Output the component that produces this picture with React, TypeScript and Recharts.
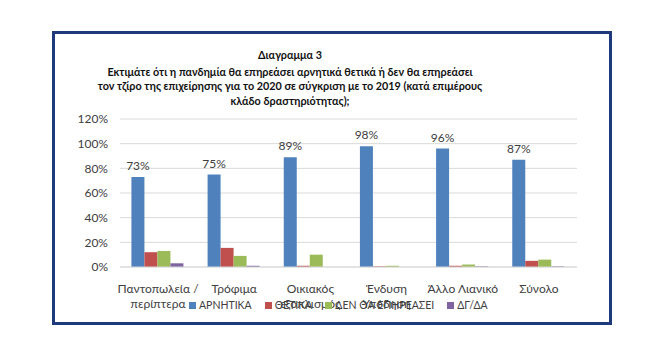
import { BarChart, Bar, XAxis, YAxis, CartesianGrid, LabelList } from 'recharts'

const categories = ['Παντοπωλεία /\nπερίπτερα', 'Τρόφιμα', 'Οικιακός\nεξοπλισμός', 'Ένδυση\nΥπόδηση', 'Άλλο Λιανικό', 'Σύνολο']
const negative = [73, 75, 89, 98, 96, 87]
const positive = [12, 15.5, 1, 0.5, 1, 5]
const noEffect = [13, 9, 10, 1, 2, 6]
const dontKnow = [3, 1, 0, 0, 0.5, 0.5]
const yTicks = [0, 20, 40, 60, 80, 100, 120]

const series = [
  { key: 'neg', name: 'ΑΡΝΗΤΙΚΑ', color: '#4f81bd' },
  { key: 'pos', name: 'ΘΕΤΙΚΑ', color: '#c0504d' },
  { key: 'none', name: 'ΔΕΝ ΘΑ ΕΠΗΡΕΑΣΕΙ', color: '#9bbb59' },
  { key: 'dk', name: 'ΔΓ/ΔΑ', color: '#8064a2' },
]

const data = categories.map((c, i) => ({
  cat: c,
  neg: negative[i],
  pos: positive[i],
  none: noEffect[i],
  dk: dontKnow[i],
}))

const font = 'Lato, "Open Sans", sans-serif'

function CatTick(props: any) {
  const { x, y, payload } = props
  const lines = String(payload.value).split('\n')
  return (
    <text x={x} y={y + 18} textAnchor="middle" fill="#404040" fontSize={12} fontFamily={font}>
      {lines.map((l, i) => (
        <tspan key={i} x={x} dy={i === 0 ? 0 : 15}>{l}</tspan>
      ))}
    </text>
  )
}

export default function App() {
  return (
    <div style={{ position: 'absolute', left: 0, top: 0, width: 658, height: 338, background: '#fff' }}>
      <div style={{ position: 'absolute', left: 52, top: 31, width: 554, height: 288, border: '3px solid #1f3a7a' }} />
      <div style={{ position: 'absolute', left: 90, top: 48, width: 400, textAlign: 'center', fontFamily: font, fontWeight: 700, fontSize: 10.8, color: '#111', lineHeight: '14.5px', whiteSpace: 'nowrap' }}>
        <div style={{ marginBottom: 2 }}>Διαγραμμα 3</div>
        <div>Εκτιμάτε ότι η πανδημία θα επηρεάσει αρνητικά θετικά ή δεν θα επηρεάσει</div>
        <div>τον τζίρο της επιχείρησης για το 2020 σε σύγκριση με το 2019 (κατά επιμέρους</div>
        <div>κλάδο δραστηριότητας);</div>
      </div>
      <div style={{ position: 'absolute', left: 0, top: 0 }}>
        <BarChart width={658} height={338} data={data} margin={{ top: 119, right: 81, bottom: 0, left: 80 }} barCategoryGap="15%" barGap={0}>
          <CartesianGrid vertical={false} stroke="#d9d9d9" />
          <XAxis dataKey="cat" height={71} axisLine={{ stroke: '#d9d9d9' }} tickLine={false} tick={<CatTick />} interval={0} />
          <YAxis width={40} domain={[0, 120]} ticks={yTicks} tickFormatter={(v) => `${v}%`} axisLine={false} tickLine={false} tickSize={0} tickMargin={12} tick={{ fontSize: 12, fill: '#404040', fontFamily: font }} />
          {series.map((s) => (
            <Bar key={s.key} dataKey={s.key} name={s.name} fill={s.color} isAnimationActive={false}>
              {s.key === 'neg' && (
                <LabelList dataKey="neg" position="top" offset={7} formatter={(v: any) => `${v}%`} style={{ fontSize: 12, fill: '#404040', fontFamily: font }} />
              )}
            </Bar>
          ))}
        </BarChart>
      </div>
      <div style={{ position: 'absolute', left: 189, top: 299, display: 'flex', whiteSpace: 'nowrap', fontFamily: font, fontSize: 10.5, color: '#404040' }}>
        {series.map((s) => (
          <div key={s.key} style={{ display: 'flex', alignItems: 'center', marginRight: 13 }}>
            <span style={{ width: 7, height: 7, background: s.color, marginRight: 3 }} />
            <span>{s.name}</span>
          </div>
        ))}
      </div>
    </div>
  )
}
